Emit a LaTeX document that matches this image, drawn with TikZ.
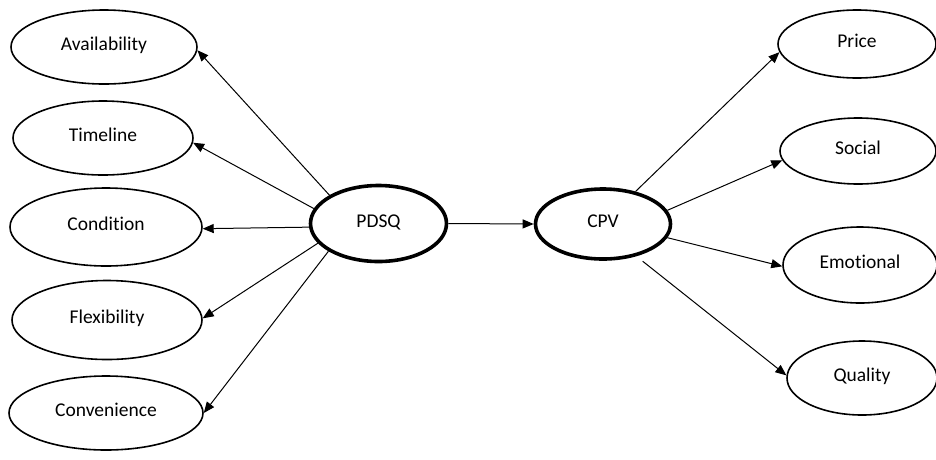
\documentclass[tikz,border=0pt]{standalone}
\usepackage{fontspec}
\setmainfont{Carlito}[Ligatures=NoCommon]
\usetikzlibrary{shapes.geometric,arrows.meta}
\begin{document}
\begin{tikzpicture}[x=1pt,y=-1pt,
  txt/.style={font=\fontsize{19.5}{23}\selectfont,text height=13pt,text depth=6pt},
  factor/.style={txt,draw=black,line width=1.6pt,ellipse,inner sep=0pt},
  core/.style={txt,draw=black,line width=3.6pt,ellipse,inner sep=0pt},
  link/.style={draw=black,line width=1pt,-{Triangle[length=11pt,width=9pt]}}]
\useasboundingbox[fill=white] (0,0) rectangle (936,459);
% left
\node[factor,minimum width=186pt,minimum height=74pt] (avail) at (104,47) {Availability};
\node[factor,minimum width=180pt,minimum height=74pt] (time) at (103,138) {Timeline};
\node[factor,minimum width=192pt,minimum height=78pt] (cond) at (106,227) {Condition};
\node[factor,minimum width=190pt,minimum height=79pt] (flex) at (107,320) {Flexibility};
\node[factor,minimum width=194pt,minimum height=74pt] (conv) at (106,413) {Convenience};
% centre
\node[core,minimum width=136pt,minimum height=76pt] (pdsq) at (378.5,223.5) {PDSQ};
\node[core,minimum width=135pt,minimum height=70pt] (cpv) at (603,224) {CPV};
% right
\node[factor,minimum width=158pt,minimum height=68pt] (price) at (857,44) {Price};
\node[factor,minimum width=156pt,minimum height=66pt] (social) at (858,151) {Social};
\node[factor,minimum width=154pt,minimum height=76pt] (emo) at (860,265) {Emotional};
\node[factor,minimum width=150pt,minimum height=74pt] (qual) at (862,378) {Quality};
% connectors
\draw[link] (pdsq.150) -- (avail.358);
\draw[link] (pdsq.167) -- (time.357);
\draw[link] (pdsq.183) -- (cond.359);
\draw[link] (pdsq.198) -- (flex.1);
\draw[link] (pdsq.209) -- (conv.0);
\draw[link] (pdsq.east) -- (cpv.west);
\draw[link] (cpv.45) -- (price.186);
\draw[link] (cpv.12) -- (social.187);
\draw[link] (cpv.348) -- (emo.181);
\draw[link,shorten <=8pt] (cpv.316) -- (qual.178);
\end{tikzpicture}
\end{document}
